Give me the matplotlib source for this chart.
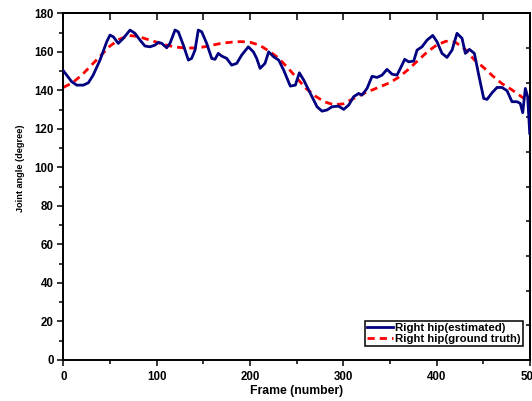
import matplotlib
matplotlib.use("Agg")
import matplotlib.pyplot as plt
from matplotlib.ticker import MultipleLocator
import numpy as np

plt.rcParams['font.family'] = ['Liberation Sans', 'DejaVu Sans']

# Ground truth (red dashed)
gt_frames = [0, 10, 20, 30, 40, 50, 60, 70, 80, 90, 100, 110, 120, 130, 140, 150,
             160, 170, 180, 190, 200, 210, 220, 230, 240, 250, 260, 270, 280, 290,
             300, 310, 320, 330, 340, 350, 360, 370, 380, 390, 400, 410, 420, 430,
             440, 450, 460, 470, 480, 490, 500]
gt_values = [141.5, 144, 148, 153, 158, 163, 166.5, 168.5, 168, 166.5, 165, 163.5,
             162.5, 162, 162, 162.5, 163.5, 164.5, 165, 165.3, 165, 163.5, 160.5,
             157, 152, 146.5, 141, 137, 134, 132.5, 133, 135.5, 138, 140, 142, 144,
             147, 151, 155.5, 160, 163.5, 165.5, 165, 161.5, 156, 152, 147.5, 143.5,
             140.5, 137, 133.5]

# Estimated (blue solid)
est_frames = [0, 3.6, 9, 14.4, 21.4, 26.8, 32, 39.3, 46.5, 50, 53.6, 58.9, 64.3, 71.5,
              76.8, 82.2, 87.5, 92.9, 98.3, 101.8, 105.4, 110.8, 114.3, 119.7, 123.2,
              128.6, 134, 137.5, 141.1, 144.6, 148.3, 153.6, 159, 162.5, 166, 169.7,
              175, 180.4, 185.8, 191.1, 198.2, 203.6, 207.2, 210.8, 216.1, 220, 225.4,
              230.8, 236.1, 243.2, 248.6, 252.9, 257.6, 264.7, 271.8, 277.2, 282.5,
              287.9, 295, 300.4, 305.8, 311.1, 316.5, 320, 325.4, 330.8, 336.1, 341.5,
              346.8, 352.2, 357.5, 361.1, 365.8, 370.1, 375.4, 379, 384.3, 389.7, 395.8,
              400.4, 405.7, 411.1, 416.5, 421.8, 427.2, 430.7, 435, 440.4, 445.1, 450.4,
              454, 459.3, 464.7, 470, 475.4, 480.7, 486, 489.6, 492.2, 495, 497.5, 499.7]
est_values = [150.2, 147.9, 144.5, 142.7, 142.7, 143.9, 147.9, 155.7, 165.2, 168.7,
              167.8, 164.4, 167, 171.3, 169.6, 166.1, 163, 162.6, 163.5, 164.9, 164.4,
              162.1, 164.4, 171.3, 170.4, 163.5, 155.7, 156.6, 160.9, 171.3, 170.4,
              164.4, 156.6, 156.1, 159.2, 157.8, 156.6, 153.1, 154, 158.3, 162.6, 160,
              156.6, 151.4, 154, 160, 157.4, 155.7, 150.5, 142.2, 142.7, 149.1, 145.3,
              138.4, 131.5, 129.2, 129.8, 131.5, 131.8, 130.1, 132.4, 136.7, 138.4,
              137.5, 141, 147.3, 146.7, 147.9, 150.9, 148.4, 147.9, 151.4, 156.1, 154.8,
              155.2, 160.9, 162.6, 166.1, 168.5, 165.2, 159.2, 157.1, 160.9, 169.6, 167,
              159.2, 161.3, 159.2, 147.9, 135.8, 135.3, 138.7, 141.5, 141.5, 139.8,
              134.1, 134.1, 133.2, 128.4, 141, 136.7, 117.7]

label_est = "Right hip(estimated)"
label_gt = "Right hip(ground truth)"

fig = plt.figure(figsize=(5.32, 4.01), dpi=100)
ax = fig.add_axes([63.3 / 532, 41 / 401, 466.7 / 532, 346.7 / 401])

ax.plot(est_frames, est_values, color='#000080', lw=2.0, label=label_est, zorder=3,
        solid_joinstyle='round')
ax.plot(gt_frames, gt_values, color='#ff0000', lw=2.0, ls=(0, (2.6, 1.8)),
        label=label_gt, zorder=2)

ax.set_xlim(0, 500)
ax.set_ylim(0, 180)

ax.xaxis.set_major_locator(MultipleLocator(100))
ax.xaxis.set_minor_locator(MultipleLocator(50))
ax.yaxis.set_major_locator(MultipleLocator(20))
ax.yaxis.set_minor_locator(MultipleLocator(10))

for s in ax.spines.values():
    s.set_linewidth(1.4)

ax.tick_params(axis='both', which='major', direction='out', length=4.5, width=1.1,
               labelsize=8.3, pad=2.5)
ax.tick_params(axis='both', which='minor', direction='out', length=2.6, width=1.1)
ax.tick_params(axis='x', which='major', pad=3.5)
for lab in ax.get_xticklabels() + ax.get_yticklabels():
    lab.set_fontweight('bold')

# top ticks (inward, every 50)
top = ax.secondary_xaxis('top')
top.set_xticks(np.arange(0, 501, 50))
top.tick_params(direction='in', length=4.8, width=1.1, labeltop=False)
top.spines['top'].set_linewidth(1.4)

# right ticks (inward)
right = ax.secondary_yaxis('right')
right.set_yticks(np.arange(18, 180, 18))
right.tick_params(direction='in', length=3.0, width=1.1, labelright=False)
right.spines['right'].set_linewidth(1.4)

ax.set_xlabel("Frame (number)", fontsize=8.8, fontweight='bold')
ax.xaxis.set_label_coords(0.5, -0.089)
ax.xaxis.label.set_va('center')
ax.set_ylabel("Joint angle (degree)", fontsize=6.6, fontweight='bold')
ax.yaxis.set_label_coords(-0.091, 0.553)
ax.yaxis.label.set_va('center')

leg = ax.legend(loc='upper right', bbox_to_anchor=(0.9844, 0.1125), frameon=True,
                fancybox=False, edgecolor='black', framealpha=1,
                prop={'size': 8.2, 'weight': 'bold'}, handlelength=2.3,
                handletextpad=0.2, borderpad=0.15, labelspacing=0.15,
                borderaxespad=0)
leg.get_frame().set_linewidth(1.1)

fig.savefig("out.png", dpi=100)
